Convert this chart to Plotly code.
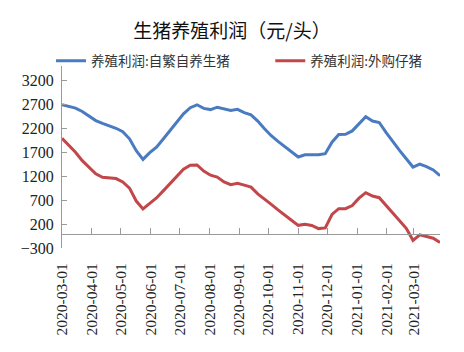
import datetime as dt
import plotly.graph_objects as go

# ---- data (weekly) ----
start_date = dt.date(2020, 3, 1)
n_points = 57
dates = [start_date + dt.timedelta(days=7 * k) for k in range(n_points)]

self_bred = [2690, 2650, 2620, 2550, 2460, 2360, 2300, 2255, 2200, 2130,
             1980, 1730, 1550, 1690, 1805, 1977, 2153, 2325, 2500, 2630,
             2690, 2615, 2590, 2640, 2600, 2570, 2595, 2525, 2480, 2350,
             2190, 2045, 1925, 1820, 1710, 1600, 1645, 1645, 1645, 1670,
             1910, 2070, 2075, 2145, 2295, 2440, 2350, 2320, 2113, 1920,
             1738, 1565, 1390, 1450, 1400, 1330, 1210]

bought_piglet = [1990, 1840, 1700, 1523, 1390, 1250, 1177, 1160, 1150, 1080,
                 950, 680, 515, 630, 744, 893, 1045, 1195, 1347, 1430,
                 1435, 1305, 1220, 1180, 1080, 1022, 1050, 1012, 970, 830,
                 725, 612, 495, 380, 280, 173, 195, 170, 105, 120,
                 400, 520, 522, 585, 740, 855, 785, 750, 590, 435,
                 280, 111, -140, -25, -60, -95, -185]

series_names = ["养殖利润:自繁自养生猪", "养殖利润:外购仔猪"]
title_text = "生猪养殖利润（元/头）"
y_ticks = [-300, 200, 700, 1200, 1700, 2200, 2700, 3200]
x_ticks = [dt.date(2020, m, 1) for m in range(3, 13)] + [dt.date(2021, m, 1) for m in range(1, 4)]
x_tick_labels = [d.strftime("%Y-%m-%d") for d in x_ticks]

blue = "#4A7BC1"
red = "#C2464A"
axis_gray = "#9A9A9A"
serif = "Liberation Serif, Times New Roman, serif"
cjk = "Noto Sans CJK SC, sans-serif"

fig = go.Figure()
fig.add_trace(go.Scatter(x=dates, y=self_bred, mode="lines", name=series_names[0],
                         line=dict(color=blue, width=3), legend="legend"))
fig.add_trace(go.Scatter(x=dates, y=bought_piglet, mode="lines", name=series_names[1],
                         line=dict(color=red, width=3), legend="legend2"))
# helper trace so the label axis (x2) is drawn
fig.add_trace(go.Scatter(x=[dates[0]], y=[None], xaxis="x2", yaxis="y",
                         mode="lines", showlegend=False, hoverinfo="skip"))

y_min, y_max = -300, 3500
zero_pos = (0 - y_min) / (y_max - y_min)

legend_common = dict(orientation="h", xanchor="left", yanchor="middle",
                     xref="paper", yref="paper",
                     font=dict(family=cjk, size=13.5, color="#333333"),
                     bgcolor="rgba(0,0,0,0)", itemwidth=30)

fig.update_layout(
    width=464, height=352, autosize=False,
    margin=dict(l=62, r=24, t=66, b=104),
    paper_bgcolor="white", plot_bgcolor="white",
    title=dict(text=title_text, x=0.5, xanchor="center", y=0.912, yanchor="middle",
               font=dict(family=cjk, size=19, color="#111111")),
    showlegend=True,
    legend=dict(x=-0.029, y=1.027, **legend_common),
    legend2=dict(x=0.551, y=1.027, **legend_common),
    xaxis=dict(
        type="date",
        range=[dates[0], dates[-1]],
        anchor="free", position=zero_pos,
        showline=True, linecolor=axis_gray, linewidth=1,
        ticks="inside", ticklen=6, tickcolor=axis_gray, tickwidth=1,
        tickvals=x_ticks, showticklabels=False,
        showgrid=False, zeroline=False,
    ),
    xaxis2=dict(
        type="date", overlaying="x", matches="x", anchor="y", side="bottom",
        range=[dates[0], dates[-1]],
        showline=False, ticks="outside", ticklen=8, tickcolor="rgba(0,0,0,0)",
        tickvals=x_ticks, ticktext=x_tick_labels, tickangle=-90,
        tickfont=dict(family=serif, size=15.5, color="#222222"),
        showgrid=False, zeroline=False,
    ),
    yaxis=dict(
        range=[y_min, y_max],
        tickvals=y_ticks,
        showline=True, linecolor=axis_gray, linewidth=1,
        ticks="inside", ticklen=5, tickcolor=axis_gray, tickwidth=1,
        ticklabelstandoff=4,
        tickfont=dict(family=serif, size=16, color="#222222"),
        showgrid=False, zeroline=False,
    ),
)

fig.write_html("out.html")
